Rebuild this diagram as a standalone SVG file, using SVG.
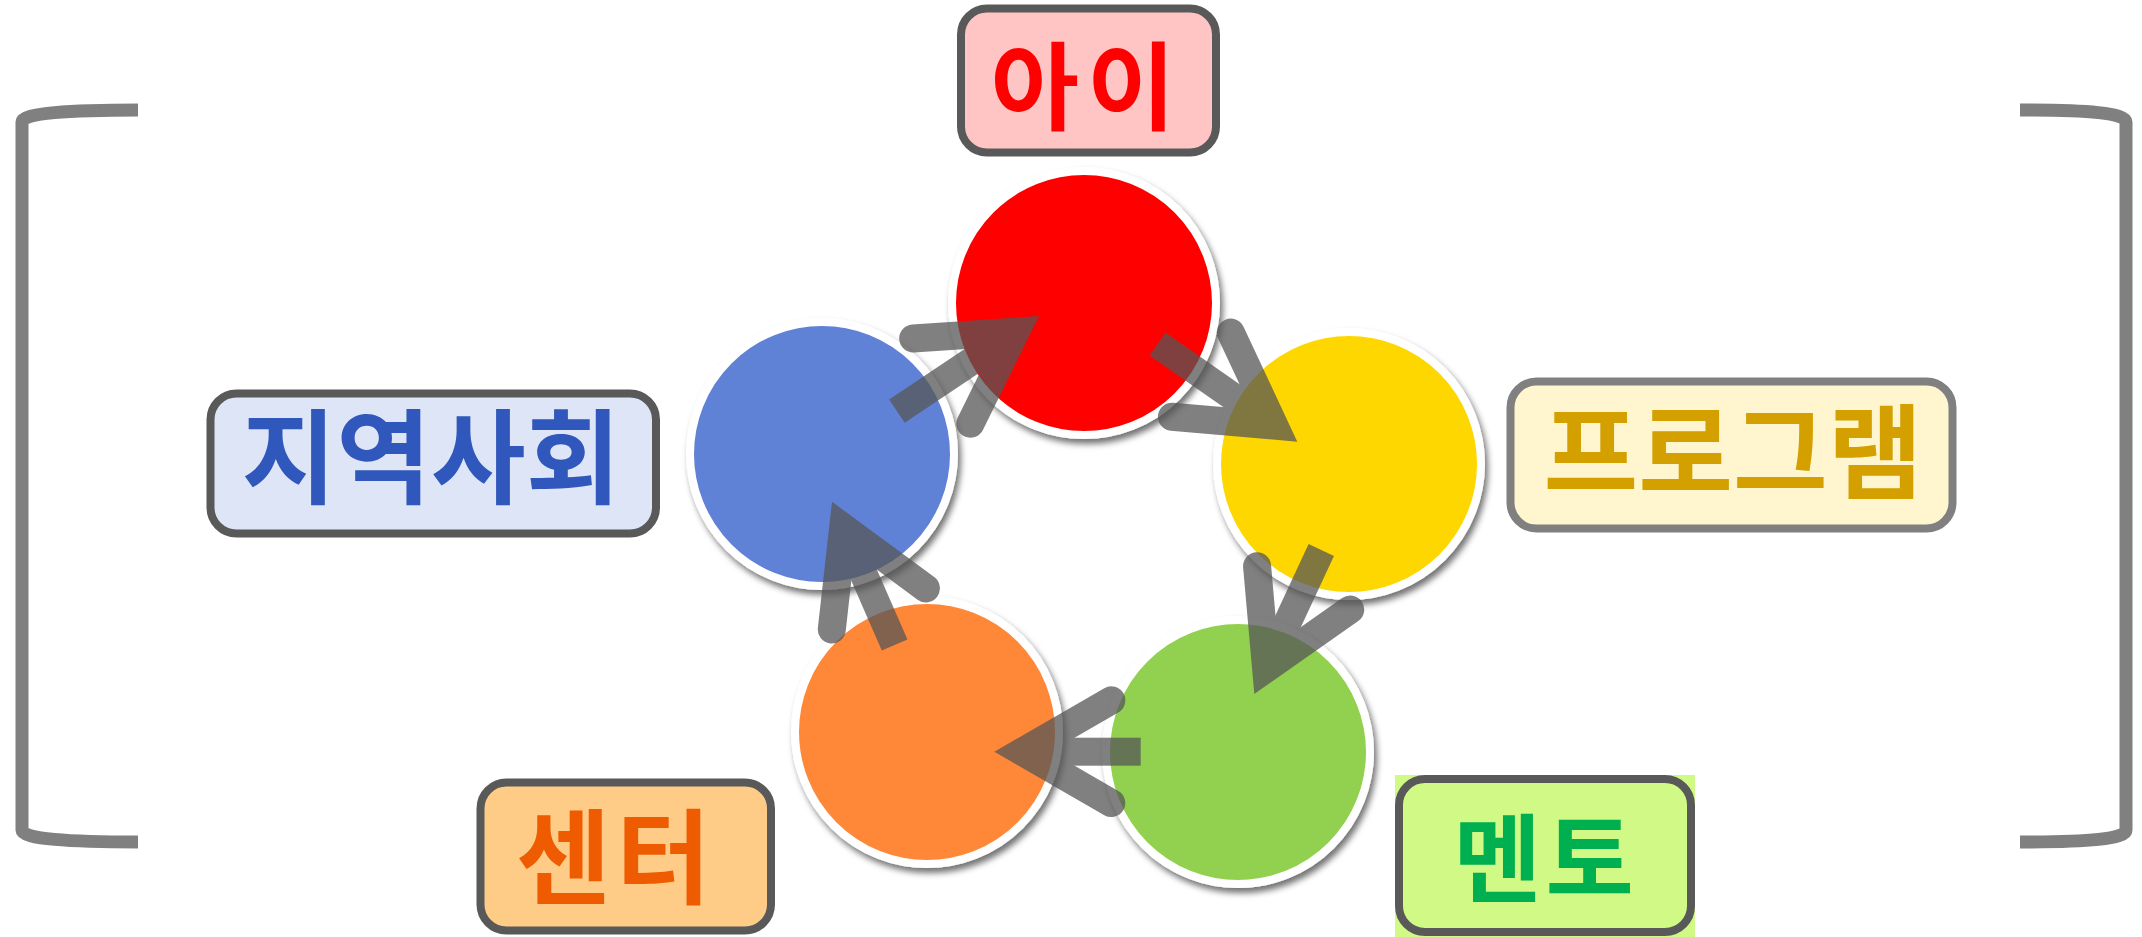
<svg xmlns="http://www.w3.org/2000/svg" width="2142" height="937" viewBox="0 0 2142 937">
<defs>
<filter id="sh" x="-20%" y="-20%" width="140%" height="140%">
<feDropShadow dx="3" dy="5" stdDeviation="3" flood-color="#000" flood-opacity="0.55"/>
</filter>
<g id="head">
<path d="M0,0 L-110,-63.5 A14,14 0 0 0 -124,-39.2 L-56,0 L-124,39.2 A14,14 0 0 0 -110,63.5 Z"/>
</g>
</defs>
<style>
.node circle{stroke:#fff;stroke-width:8;filter:url(#sh)}
.box{stroke:#595959;stroke-width:8}
.lbl{font-family:"Noto Sans CJK KR","Noto Sans",sans-serif;font-weight:bold;font-size:103px;text-anchor:middle}
.sm{font-size:96px}
.arrow{fill:#565656;opacity:0.75}
.bracket{fill:none;stroke:#808080;stroke-width:13}
</style>
<rect width="2142" height="937" fill="#fff"/>
<g id="brackets">
<path class="bracket" d="M138,110 C70,110 22,113 22,122 L22,830 C22,839 70,842 138,842"/>
<path class="bracket" d="M2020,110 C2088,110 2126,113 2126,122 L2126,830 C2126,839 2088,842 2020,842"/>
</g>
<g id="node-red" class="node"><circle cx="1084" cy="303" r="132" fill="#ff0000"/></g>
<g id="node-yellow" class="node"><circle cx="1349" cy="464" r="132" fill="#ffd700"/></g>
<g id="node-green" class="node"><circle cx="1238" cy="752" r="132" fill="#92d050"/></g>
<g id="node-orange" class="node"><circle cx="927" cy="732" r="132" fill="#ff8838"/></g>
<g id="node-blue" class="node"><circle cx="822" cy="454" r="132" fill="#6182d6"/></g>
<g id="connectors">
<g class="arrow" transform="translate(1039,316) rotate(-33.8)"><rect x="-171" y="-14" width="121" height="28"/><use href="#head"/></g>
<g class="arrow" transform="translate(1297.3,441.7) rotate(34.95)"><rect x="-170.6" y="-14" width="120.6" height="28"/><use href="#head"/></g>
<g class="arrow" transform="translate(1254.3,694) rotate(114.95)"><rect x="-158.8" y="-14" width="108.8" height="28"/><use href="#head"/></g>
<g class="arrow" transform="translate(994.3,751.7) rotate(180)"><rect x="-146.4" y="-14" width="96.4" height="28"/><use href="#head"/></g>
<g class="arrow" transform="translate(832,501.7) rotate(-113.6)"><rect x="-156.4" y="-14" width="106.4" height="28"/><use href="#head"/></g>
</g>
<g id="label-child">
<rect class="box" x="961" y="8.5" width="255" height="144" rx="26" fill="#ffc4c4"/>
<text class="lbl sm" x="1087" y="122" fill="#ff0000" letter-spacing="8">아이</text>
</g>
<g id="label-program">
<rect class="box" x="1510.5" y="381.5" width="442" height="147" rx="26" fill="#fff6cf" style="stroke:#808080"/>
<text class="lbl" x="1733" y="491" fill="#d4a000">프로그램</text>
</g>
<g id="label-community">
<rect class="box" x="210.5" y="393.5" width="445.5" height="140" rx="26" fill="#dee5f7"/>
<text class="lbl" x="431" y="496" fill="#3057bb">지역사회</text>
</g>
<g id="label-center">
<rect class="box" x="480.5" y="782.5" width="290.5" height="148" rx="26" fill="#ffcc88"/>
<text class="lbl" x="616" y="896" fill="#ee5b00" letter-spacing="5">센터</text>
</g>
<g id="label-mentor">
<rect x="1395" y="775" width="300" height="162" fill="#d0f986"/>
<rect class="box" x="1399" y="779" width="292" height="153" rx="26" fill="#d0f986"/>
<text class="lbl sm" x="1545.5" y="894" fill="#00b050" letter-spacing="4">멘토</text>
</g>
</svg>
